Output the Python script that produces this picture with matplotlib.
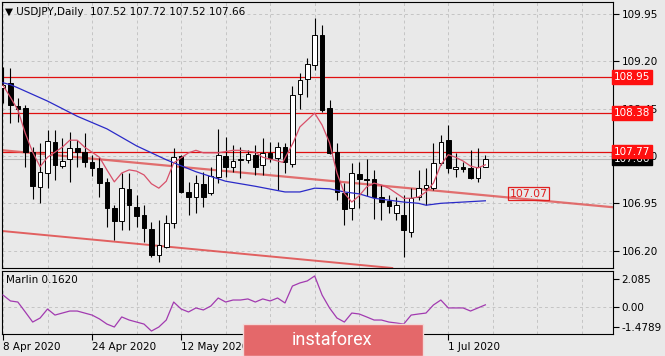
import numpy as np
import matplotlib.pyplot as plt
from matplotlib.patches import Rectangle

# --- data (USDJPY daily, 8 Apr 2020 .. 8 Jul 2020) ---
opens = [108.78, 108.86, 108.49, 108.46, 107.76, 107.21, 107.43, 107.92, 107.54, 107.65,
         107.83, 107.76, 107.60, 107.51, 107.29, 106.88, 106.67, 107.18, 106.89, 106.76,
         106.54, 106.13, 106.26, 106.64, 107.70, 107.13, 107.05, 107.26, 107.11, 107.37,
         107.70, 107.53, 107.64, 107.64, 107.72, 107.56, 107.75, 107.67, 107.84, 107.57,
         108.68, 108.92, 109.14, 109.62, 108.46, 107.76, 107.11, 106.88, 107.41, 107.34,
         107.34, 107.05, 106.99, 106.80, 106.76, 106.50, 107.05, 107.19, 107.19, 107.59,
         107.95, 107.49, 107.53, 107.51, 107.35, 107.52]
highs = [109.11, 109.09, 108.62, 108.51, 107.84, 107.91, 108.11, 108.11, 107.99, 108.08,
         107.95, 108.06, 107.72, 107.68, 107.35, 106.92, 107.43, 107.43, 107.08, 106.92,
         106.65, 106.69, 106.76, 107.83, 107.72, 107.29, 107.40, 107.45, 107.53, 108.13,
         108.00, 107.87, 107.84, 107.79, 107.87, 107.99, 107.92, 107.92, 107.91, 108.81,
         109.02, 109.25, 109.89, 109.78, 108.59, 107.91, 107.27, 107.59, 107.60, 107.65,
         107.48, 107.24, 107.08, 107.05, 107.08, 107.19, 107.48, 107.51, 107.91, 108.03,
         108.19, 107.75, 107.60, 107.79, 107.83, 107.72]
lows = [108.54, 108.22, 108.24, 107.53, 107.02, 106.95, 107.19, 107.32, 107.51, 107.29,
        107.53, 107.53, 107.38, 107.05, 106.57, 106.37, 106.53, 106.53, 106.57, 106.34,
        106.10, 106.02, 106.24, 106.56, 107.11, 106.76, 106.80, 106.89, 107.08, 107.27,
        107.37, 107.45, 107.35, 107.59, 107.40, 107.40, 107.60, 107.16, 107.43, 107.53,
        108.44, 108.63, 109.06, 108.40, 107.73, 107.00, 106.61, 106.69, 106.88, 107.07,
        106.70, 106.69, 106.80, 106.69, 106.10, 106.42, 107.00, 106.92, 107.16, 107.56,
        107.43, 107.37, 107.45, 107.33, 107.29, 107.52]
closes = [108.82, 108.51, 108.44, 107.76, 107.22, 107.45, 107.94, 107.56, 107.62, 107.83,
          107.76, 107.60, 107.51, 107.27, 106.88, 106.67, 107.19, 106.92, 106.75, 106.56,
          106.13, 106.29, 106.64, 107.68, 107.13, 107.05, 107.27, 107.05, 107.38, 107.72,
          107.53, 107.62, 107.65, 107.73, 107.53, 107.75, 107.67, 107.84, 107.60, 108.67,
          108.90, 109.16, 109.62, 108.43, 107.75, 107.13, 106.86, 107.43, 107.34, 107.32,
          107.05, 106.97, 106.91, 106.92, 106.53, 107.03, 107.19, 107.24, 107.59, 107.92,
          107.51, 107.53, 107.49, 107.35, 107.53, 107.66]

# slow moving average (blue)
blue_idx = [0, 1, 2, 6, 10, 14, 18, 22, 26, 30, 34, 38, 40, 42, 44, 46, 48, 50, 54, 56, 57, 59, 62, 65]
blue_val = [108.86, 108.83, 108.78, 108.57, 108.33, 108.13, 107.86, 107.64, 107.45, 107.30,
            107.22, 107.13, 107.13, 107.19, 107.18, 107.13, 107.10, 107.03, 106.97, 106.95,
            106.92, 106.95, 106.97, 106.99]

# fast moving average (thin red)
red_idx = [0, 1, 2, 3, 4, 5, 6, 8, 9, 10, 11, 13, 14, 15, 16, 17, 18, 19, 20, 21, 22, 23,
           25, 26, 27, 29, 31, 32, 34, 35, 37.7, 39.1, 40, 42, 43, 44, 45, 46, 47, 48, 49,
           50, 51, 52, 54, 55, 56, 57, 58, 59, 60, 61, 62, 63, 64, 65]
red_val = [108.82, 108.63, 108.43, 108.06, 107.76, 107.53, 107.68, 107.84, 107.95, 107.95,
           107.84, 107.68, 107.48, 107.29, 107.43, 107.48, 107.46, 107.40, 107.26, 107.19,
           107.30, 107.59, 107.75, 107.79, 107.75, 107.75, 107.79, 107.79, 107.76, 107.68,
           107.60, 107.91, 108.16, 108.38, 108.19, 107.91, 107.43, 107.11, 106.97, 107.07,
           107.21, 107.27, 107.24, 107.19, 107.03, 107.03, 107.05, 107.13, 107.27, 107.56,
           107.72, 107.68, 107.62, 107.54, 107.51, 107.56]

# Marlin oscillator
marlin = [0.89, 0.45, 0.37, -0.37, -1.12, -0.82, -0.15, -0.60, -0.45, -0.30,
          -0.30, -0.45, -0.60, -0.89, -1.27, -1.49, -0.74, -0.97, -1.12, -1.27,
          -1.79, -1.49, -0.97, 0.37, -0.15, -0.37, -0.07, -0.22, 0.07, 0.67,
          0.37, 0.52, 0.52, 0.60, 0.37, 0.60, 0.45, 0.67, 0.30, 1.56,
          1.79, 1.94, 2.31, 0.89, -0.07, -0.82, -1.12, -0.45, -0.52, -0.74,
          -0.97, -0.97, -1.12, -1.19, -1.27, -0.60, -0.52, -0.45, 0.15, 0.52,
          -0.07, -0.07, -0.07, -0.30, -0.07, 0.162]

levels = [108.95, 108.38, 107.77]
last_price = 107.66
trend_upper = [(0, 107.79), (82, 106.89)]
trend_lower = [(0, 106.51), (52, 105.93)]
trend_label = "107.07"

price_ticks = [106.20, 106.95, 107.70, 108.45, 109.20, 109.95]
osc_ticks = [-1.4789, 0.0, 2.085]
osc_tick_labels = ["-1.4789", "0.00", "2.085"]
date_pos = [0, 12, 24, 36, 48, 60]
date_labels = ["8 Apr 2020", "24 Apr 2020", "12 May 2020", "28 May 2020", "15 Jun 2020", "1 Jul 2020"]

bg = "#e9e9e9"
grid_c = "#c4c4c4"
W, H = 665, 356

fig = plt.figure(figsize=(W / 100, H / 100), dpi=100, facecolor=bg)
ax = fig.add_axes([2 / W, 1 - 268 / H, 611 / W, 266 / H], facecolor=bg)
ax2 = fig.add_axes([2 / W, 1 - 334 / H, 611 / W, 63 / H], facecolor=bg)

for a in (ax, ax2):
    a.set_xlim(-0.135, 82.2)
    for s in a.spines.values():
        s.set_color("black")
        s.set_linewidth(0.8)
    for g in range(0, 84, 6):
        a.axvline(g, color=grid_c, lw=0.7, ls=(0, (3, 3)), zorder=0)

# --- main price panel ---
ax.set_ylim(105.925, 110.14)
for p in price_ticks:
    ax.axhline(p, color=grid_c, lw=0.7, ls=(0, (3, 3)), zorder=0)

o = np.array(opens)
c = np.array(closes)
x = np.arange(len(o))
up = c >= o
ax.vlines(x, lows, highs, color="black", lw=0.8, zorder=3)
body_lo = np.minimum(o, c)
body_h = np.maximum(np.abs(c - o), 0.012)
ax.bar(x, body_h, bottom=body_lo, width=0.62,
       color=np.where(up, "white", "black"), edgecolor="black", lw=0.7, zorder=4)

ax.plot(blue_idx, blue_val, color="#2a2ac8", lw=0.9, zorder=5)
ax.plot(red_idx, red_val, color="#d8506a", lw=0.9, zorder=5)

for lv in levels:
    ax.axhline(lv, color="#e01010", lw=0.9, zorder=2)
ax.axhline(last_price, color="#b8b8b8", lw=0.8, zorder=1)

ax.axline(trend_upper[0], trend_upper[1], color="#e05858", lw=1.6, alpha=0.85, zorder=2)
ax.axline(trend_lower[0], trend_lower[1], color="#e04848", lw=1.4, alpha=0.85, zorder=2)
ax.text(70.8, 107.10, trend_label, ha="center", va="center", fontsize=7.8, color="#e02020",
        zorder=6, bbox=dict(boxstyle="square,pad=0.15", fc="none", ec="#e02020", lw=0.9))

ax.set_xticks([])
ax.yaxis.tick_right()
ax.set_yticks(price_ticks)
ax.set_yticklabels([f"{p:.2f}" for p in price_ticks])
ax.tick_params(axis="y", direction="out", length=4, width=0.8, labelsize=7.5, pad=2)

ytr = ax.get_yaxis_transform()
ax.text(1.002, last_price, f"{last_price:.2f}", transform=ytr, ha="left", va="center",
        fontsize=7.5, color="white", zorder=7, clip_on=False,
        bbox=dict(boxstyle="square,pad=0.18", fc="black", ec="black"))
for lv in levels:
    ax.text(1.002, lv, f"{lv:.2f}", transform=ytr, ha="left", va="center",
            fontsize=7.5, color="white", zorder=8, clip_on=False,
            bbox=dict(boxstyle="square,pad=0.18", fc="#ff1010", ec="#ff1010"))

fig.text(5 / W, 1 - 12 / H, "\u25BC USDJPY,Daily  107.52 107.72 107.52 107.66",
         fontsize=7.5, va="center", ha="left", color="black")

# --- Marlin panel ---
ax2.set_ylim(-2.01, 2.68)
ax2.axhline(0, color=grid_c, lw=0.7, ls=(0, (3, 3)), zorder=0)
ax2.plot(x, marlin, color="#a23ab0", lw=0.9, zorder=3)
ax2.yaxis.tick_right()
ax2.set_yticks(osc_ticks)
ax2.set_yticklabels(osc_tick_labels)
ax2.tick_params(axis="y", direction="out", length=4, width=0.8, labelsize=7.5, pad=2)
ax2.set_xticks(date_pos)
ax2.set_xticklabels(date_labels, ha="left")
ax2.tick_params(axis="x", direction="out", length=4, width=0.8, labelsize=7.5, pad=2)
ax2.text(0.006, 0.86, "Marlin 0.1620", transform=ax2.transAxes,
         fontsize=7.5, va="center", ha="left")

# --- watermark ---
fig.patches.append(Rectangle((243 / W, 0), 180 / W, 32 / H, transform=fig.transFigure,
                             fc="#e4686a", ec="#f2d8d8", lw=1, zorder=10))
fig.text(332 / W, 1 - 340 / H, "instaforex", color="white", fontsize=13,
         family="Roboto", ha="center", va="center", zorder=11)

fig.savefig("out.png", dpi=100, facecolor=bg)
